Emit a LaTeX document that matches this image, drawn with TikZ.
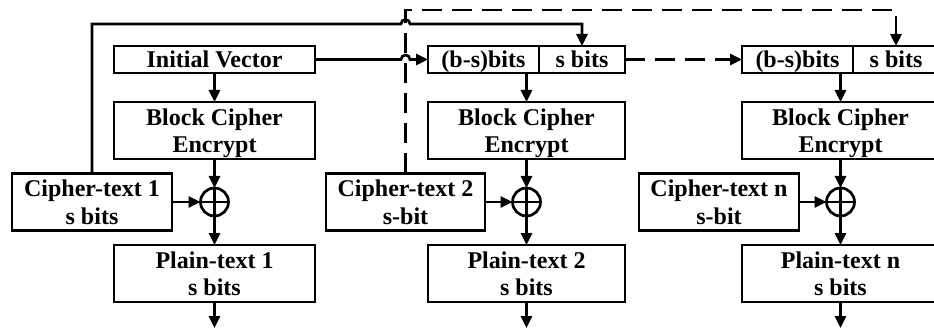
\documentclass[tikz,border=0pt]{standalone}
\usepackage{fontspec}
\setmainfont{Liberation Serif}
\usetikzlibrary{arrows.meta}
\begin{document}
\begin{tikzpicture}[x=1pt,y=-1pt,
  lw/.style={line width=2.7pt},
  blk/.style={draw, lw, inner sep=0pt, outer sep=0pt, align=center,
    font=\fontsize{24}{27.5}\selectfont\bfseries, minimum height=57pt, text depth=0pt},
  slim/.style={blk, minimum height=27pt},
  xorop/.style={draw, lw, circle, minimum size=28pt, inner sep=0pt, outer sep=0pt},
  flow/.style={lw, -{Triangle[length=12pt,width=11pt]}},
  fb/.style={flow, dash pattern=on 20pt off 10pt}]
\useasboundingbox (0,0) rectangle (934,331);
\clip (0,0) rectangle (934,331);

% helper heights
\coordinate (topy) at (0,24);
\coordinate (fby) at (0,10);
\coordinate (outy) at (0,328);

% first stage
\node[slim, minimum width=201pt] (iv) at (214.5,59.5) {Initial Vector};
\node[blk, minimum width=201pt] (bc1) at (214.5,130.5) {Block Cipher\\Encrypt};
\node[blk, minimum width=160pt] (ct1) at (92,202) {Cipher-text 1\\s bits};
\node[xorop] (x1) at (214.5,202) {};
\node[blk, minimum width=201pt] (pt1) at (214.5,273.5) {Plain-text 1\\s bits};

% second stage
\node[slim, minimum width=111pt] (bs2) at (483.5,59.5) {(b-s)bits};
\node[slim, minimum width=86pt] (s2) at (582,59.5) {s bits};
\node[blk, minimum width=197pt] (bc2) at (526.5,130.5) {Block Cipher\\Encrypt};
\node[blk, minimum width=159pt] (ct2) at (405.5,202) {Cipher-text 2\\s-bit};
\node[xorop] (x2) at (526.5,202) {};
\node[blk, minimum width=197pt] (pt2) at (526.5,273.5) {Plain-text 2\\s bits};

% n-th stage
\node[slim, minimum width=111pt] (bsn) at (797.5,59.5) {(b-s)bits};
\node[slim, minimum width=86pt] (sn) at (896,59.5) {s bits};
\node[blk, minimum width=197pt] (bcn) at (840.5,130.5) {Block Cipher\\Encrypt};
\node[blk, minimum width=160pt] (ctn) at (719,202) {Cipher-text n\\s-bit};
\node[xorop] (xn) at (840.5,202) {};
\node[blk, minimum width=197pt] (ptn) at (840.5,273.5) {Plain-text n\\s bits};

% plus signs inside the XOR circles
\foreach \x in {x1,x2,xn}{
  \draw[lw] (\x.north) -- (\x.south) (\x.west) -- (\x.east);
}

% crossing points with the dashed feedback line
\coordinate (h1) at (ct2.north |- topy);
\coordinate (h2) at (ct2.north |- iv.east);

% dashed feedback from cipher-text 2 to the n-th register
\draw[fb] (ct2.north) |- (sn.north |- fby) -- (sn.north);
\draw[fb] (s2.east) -- (bsn.west);

% feedback from cipher-text 1, hopping over the dashed line
\draw[flow] (ct1.north) -- (ct1.north |- topy) -- ([xshift=-4.5pt]h1)
  arc[start angle=180, end angle=0, radius=4.5pt] -- (s2.north |- topy) -- (s2.north);
% initial vector into the second register
\draw[flow] (iv.east) -- ([xshift=-4.5pt]h2)
  arc[start angle=180, end angle=0, radius=4.5pt] -- (bs2.west);

% vertical flow in every stage
\draw[flow] (iv.south) -- (bc1.north);
\draw[flow] (bc1.south) -- (x1.north);
\draw[flow] (ct1.east) -- (x1.west);
\draw[flow] (x1.south) -- (pt1.north);
\draw[flow] (pt1.south) -- (pt1.south |- outy);

\draw[flow] (bc2.north |- bs2.south) -- (bc2.north);
\draw[flow] (bc2.south) -- (x2.north);
\draw[flow] (ct2.east) -- (x2.west);
\draw[flow] (x2.south) -- (pt2.north);
\draw[flow] (pt2.south) -- (pt2.south |- outy);

\draw[flow] (bcn.north |- bsn.south) -- (bcn.north);
\draw[flow] (bcn.south) -- (xn.north);
\draw[flow] (ctn.east) -- (xn.west);
\draw[flow] (xn.south) -- (ptn.north);
\draw[flow] (ptn.south) -- (ptn.south |- outy);
\end{tikzpicture}
\end{document}
